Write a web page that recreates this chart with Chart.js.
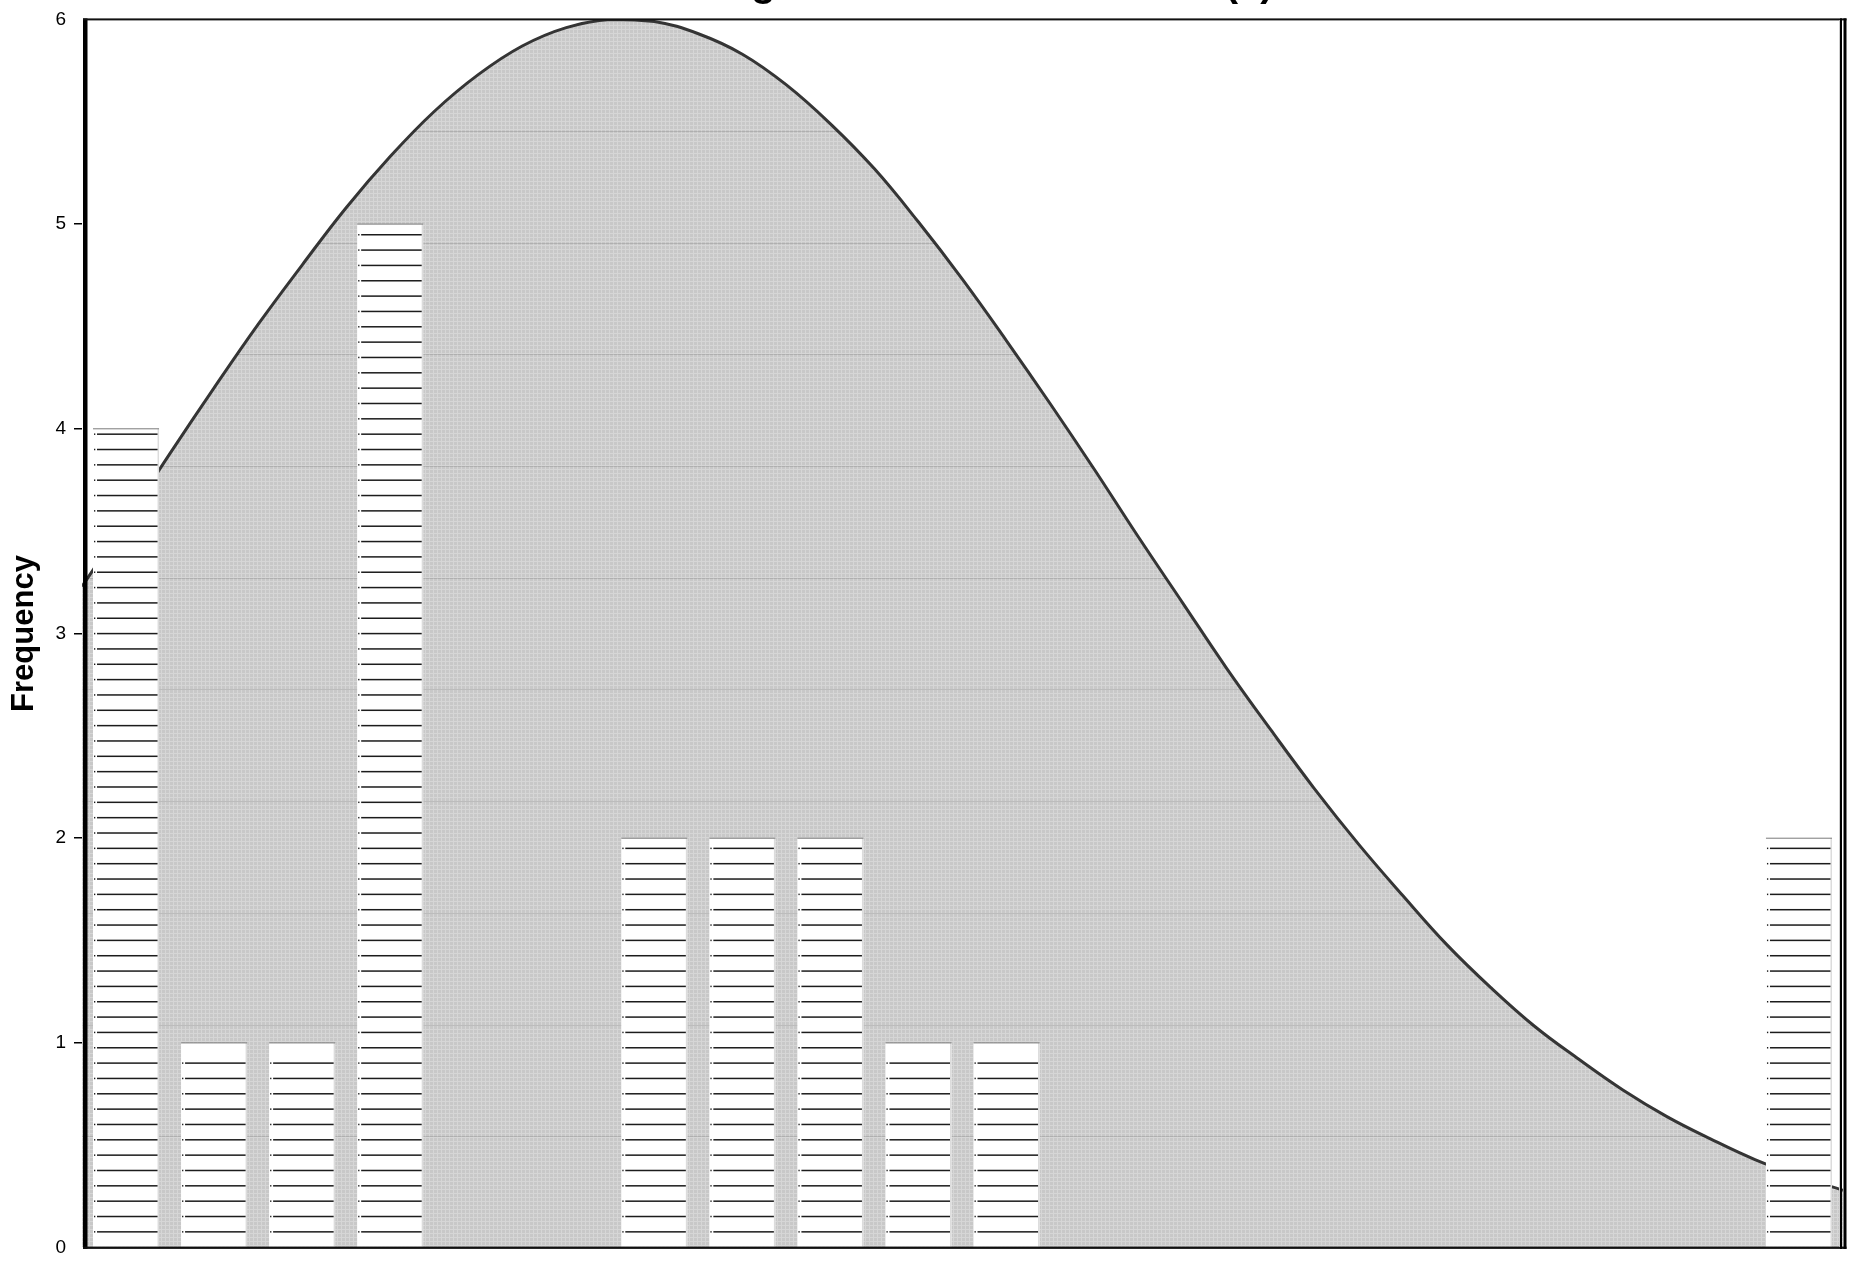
<!DOCTYPE html>
<html><head><meta charset="utf-8">
<script src="https://cdn.jsdelivr.net/npm/chart.js@4.4.1/dist/chart.umd.min.js"></script>
<style>html,body{margin:0;padding:0;background:#fff;overflow:hidden}canvas{display:block}</style>
</head><body>
<canvas id="c" width="1854" height="1267"></canvas>
<script>
// ---- data ----
const chartTitle = 'Histogram with Normal Curve (x)';
const yAxisTitle = 'Frequency';
const binLabels = ['1','2','3','4','5','6','7','8','9','10','11','12','13','14','15','16','17','18','19','20'];
const frequencies = [4,1,1,5,0,0,2,2,2,1,1,0,0,0,0,0,0,0,0,2];
const curveX = [-0.5,0,0.5,1,1.5,2,2.5,3,3.5,4,4.5,5,5.5,6,6.5,7,7.5,8,8.5,9,9.5,10,10.5,11,11.5,12,12.5,13,13.5,14,14.5,15,15.5,16,16.5,17,17.5,18,18.5,19,19.5];
const curveY = [3.23,3.55,3.88,4.20,4.51,4.80,5.08,5.33,5.55,5.73,5.87,5.96,6.00,5.99,5.93,5.83,5.68,5.49,5.27,5.01,4.73,4.43,4.12,3.80,3.47,3.15,2.83,2.53,2.24,1.97,1.72,1.48,1.27,1.08,0.92,0.77,0.64,0.53,0.43,0.35,0.28];
const yMin = 0, yMax = 6, yStep = 1;

// ---- fill texture ----
function makePattern() {
  const p = document.createElement('canvas');
  p.width = 4; p.height = 4;
  const g = p.getContext('2d');
  g.fillStyle = '#c8c8c8'; g.fillRect(0,0,4,4);
  g.fillStyle = '#d6d6d6'; g.fillRect(0,1,4,1); g.fillRect(1,0,1,4);
  return g.createPattern(p, 'repeat');
}
const ctx0 = document.getElementById('c').getContext('2d');
const fillPattern = makePattern();

const decoPlugin = {
  id: 'deco',
  afterDatasetDraw(chart, args) {
    const ctx = chart.ctx, area = chart.chartArea;
    if (args.index === 1) {
      const meta = args.meta, pts = meta.data;
      ctx.save();
      ctx.beginPath();
      if (meta.dataset && meta.dataset.path) { meta.dataset.path(ctx); }
      else { pts.forEach((p,i)=> i? ctx.lineTo(p.x,p.y) : ctx.moveTo(p.x,p.y)); }
      ctx.lineTo(pts[pts.length-1].x, area.bottom);
      ctx.lineTo(pts[0].x, area.bottom);
      ctx.closePath();
      ctx.clip();
      ctx.fillStyle = 'rgba(0,0,0,0.12)';
      for (let yy = area.top + 111.5; yy < area.bottom; yy += 111.7) ctx.fillRect(area.left, Math.round(yy), area.width, 1);
      ctx.restore();
    }
    if (args.index === 0) {
      const step = 15.34;
      ctx.save();
      args.meta.data.forEach((el, i) => {
        if (!frequencies[i]) return;
        const {x, y, base, width} = el.getProps(['x','y','base','width'], true);
        const l = x - width/2, r = x + width/2;
        ctx.fillStyle = '#dcdcdc'; ctx.fillRect(r-1.5, y, 1.5, base-y);
        ctx.fillStyle = '#7a7a7a'; ctx.fillRect(l, y-0.5, width, 1);
        ctx.fillStyle = '#1c1c1c';
        for (let yy = base - 15; yy > y + 5; yy -= step) {
          ctx.fillRect(l+1, yy-0.75, 1.3, 1.5);
          ctx.fillRect(l+4, yy-0.75, width-5.5, 1.5);
        }
      });
      ctx.restore();
    }
  },
  afterDraw(chart) {
    const ctx = chart.ctx, a = chart.chartArea;
    ctx.save();
    ctx.fillStyle = '#000';
    ctx.fillRect(a.left+1, a.top-1, 4.5, a.bottom-a.top+2.3);
    ctx.fillStyle = '#111';
    ctx.fillRect(a.left+1, a.top-1, a.right-a.left+2.5, 2);
    ctx.fillRect(a.left+1, a.bottom-1, a.right-a.left+2.5, 2.3);
    ctx.fillStyle = '#cfcfcf';
    ctx.fillRect(a.right-4, a.top+1, 1, a.bottom-a.top-2);
    ctx.fillStyle = '#000';
    ctx.fillRect(a.right-3, a.top-1, 2, a.bottom-a.top+2.3);
    ctx.fillRect(a.right+0.5, a.top-1, 3, a.bottom-a.top+2.3);
    ctx.font = 'bold 40px "Liberation Sans", Arial, sans-serif';
    ctx.textAlign = 'center';
    ctx.textBaseline = 'alphabetic';
    ctx.fillText(chartTitle, (a.left+a.right)/2, -4.5);
    ctx.restore();
  }
};

new Chart(ctx0, {
  type: 'bar',
  data: {
    labels: binLabels,
    datasets: [
      { type: 'bar', label: 'Frequency', data: frequencies, backgroundColor: '#ffffff', borderWidth: 0,
        grouped: false, barPercentage: 0.75, categoryPercentage: 1.0, order: 0, xAxisID: 'x', yAxisID: 'y' },
      { type: 'line', label: 'Normal', data: curveX.map((v,i)=>({x:v, y:curveY[i]})), xAxisID: 'xc', yAxisID: 'y',
        borderColor: '#353535', borderWidth: 3, pointRadius: 0, tension: 0.4, fill: 'origin',
        backgroundColor: fillPattern, order: 1 }
    ]
  },
  options: {
    responsive: false, animation: false, devicePixelRatio: 1,
    layout: { padding: { left: 0, top: 15, right: 11, bottom: 11 } },
    plugins: { legend: { display: false }, tooltip: { enabled: false }, title: { display: false } },
    scales: {
      x: { type: 'category', display: false, offset: true, grid: { display: false } },
      xc: { type: 'linear', display: false, offset: false, min: -0.5, max: 19.5, grid: { offset: false } },
      y: {
        type: 'linear', position: 'left', min: yMin, max: yMax,
        afterFit(s) { s.width = 82; },
        ticks: { stepSize: yStep, color: '#000', padding: 8, font: { family: '"Liberation Sans", Arial, sans-serif', size: 19 } },
        grid: { drawOnChartArea: false, drawTicks: true, tickLength: 8, lineWidth: 1.5,
          color: (c) => (c.tick && (c.tick.value === yMin || c.tick.value === yMax)) ? 'rgba(0,0,0,0)' : '#000' },
        border: { display: false },
        title: { display: true, text: yAxisTitle, color: '#000', padding: { top: 6, bottom: 0 },
          font: { family: '"Liberation Sans", Arial, sans-serif', size: 31, weight: 'bold' } }
      }
    }
  },
  plugins: [decoPlugin]
});
</script>
</body></html>
